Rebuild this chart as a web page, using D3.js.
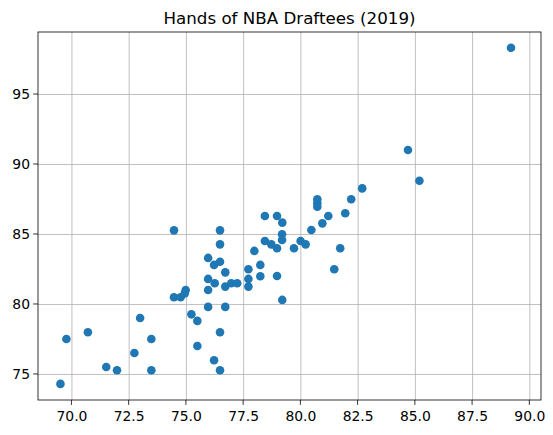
<!DOCTYPE html>
<html><head><meta charset="utf-8">
<script src="https://cdn.jsdelivr.net/npm/d3@7"></script>
<style>body{margin:0;background:#fff}</style></head>
<body><svg id="c" width="553" height="435"></svg>
<script>
const handLength = [69.52,69.78,70.72,71.52,71.99,72.75,73.0,73.49,73.49,74.48,74.48,74.77,74.99,74.95,75.24,75.5,75.5,75.97,75.97,75.97,75.97,76.23,76.26,76.49,76.49,76.49,76.23,76.49,76.49,76.72,76.72,76.72,76.98,77.24,77.73,77.73,77.73,77.99,78.25,78.25,78.45,78.98,79.21,79.2,79.2,78.45,78.73,78.98,78.98,79.21,79.72,80.01,80.23,80.48,80.74,80.74,80.74,80.96,81.22,81.48,81.74,81.96,82.22,82.70,84.7,85.2,89.2];
const handWidth  = [74.29,77.5,77.98,75.5,75.26,76.5,79.0,77.5,75.26,85.26,80.48,80.48,81.0,80.76,79.26,78.79,77.0,83.29,81.79,81.0,79.79,82.79,81.48,85.26,84.26,83.02,75.98,77.98,75.26,82.26,81.24,79.79,81.48,81.48,82.48,81.79,81.24,83.79,82.79,81.98,86.29,86.29,85.81,84.98,84.57,84.5,84.26,83.98,82.0,80.29,83.98,84.5,84.26,85.29,87.48,87.19,86.95,85.76,86.29,82.48,83.98,86.48,87.48,88.26,91.0,88.8,98.3];
const xTicks = [70.0,72.5,75.0,77.5,80.0,82.5,85.0,87.5,90.0];
const yTicks = [75,80,85,90,95];

const svg = d3.select("#c");
const L=38,R=541,T=32,B=400;
const x = d3.scaleLinear().domain([68.54,90.51]).range([L,R]);
const y = d3.scaleLinear().domain([73.14,99.43]).range([B,T]);
const font = "DejaVu Sans, sans-serif";

svg.append("g").attr("transform",`translate(0,${B})`)
  .call(d3.axisBottom(x).tickValues(xTicks).tickFormat(d3.format(".1f")).tickSize(-(B-T)).tickSizeOuter(0))
  .call(g=>{g.select(".domain").remove();g.selectAll("line").attr("stroke","#b0b0b0").attr("stroke-width",0.8);
    g.selectAll("text").attr("font-family",font).attr("font-size",13.9).attr("fill","#000").attr("dy","1.3em");});
svg.append("g").attr("transform",`translate(${L},0)`)
  .call(d3.axisLeft(y).tickValues(yTicks).tickSize(-(R-L)).tickSizeOuter(0))
  .call(g=>{g.select(".domain").remove();g.selectAll("line").attr("stroke","#b0b0b0").attr("stroke-width",0.8);
    g.selectAll("text").attr("font-family",font).attr("font-size",13.9).attr("fill","#000").attr("x",-8);});
// tick marks outside
svg.append("g").selectAll("line").data(xTicks).join("line")
  .attr("x1",d=>x(d)).attr("x2",d=>x(d)).attr("y1",B).attr("y2",B+4.9).attr("stroke","#000").attr("stroke-width",0.8);
svg.append("g").selectAll("line").data(yTicks).join("line")
  .attr("y1",d=>y(d)).attr("y2",d=>y(d)).attr("x1",L).attr("x2",L-4.9).attr("stroke","#000").attr("stroke-width",0.8);

svg.append("g").selectAll("circle").data(handLength).join("circle")
  .attr("cx",d=>x(d)).attr("cy",(d,i)=>y(handWidth[i])).attr("r",4.3).attr("fill","#1f77b4");

svg.append("rect").attr("x",L).attr("y",T).attr("width",R-L).attr("height",B-T)
  .attr("fill","none").attr("stroke","#000").attr("stroke-width",0.8);
svg.append("text").attr("x",(L+R)/2).attr("y",T-8).attr("text-anchor","middle")
  .attr("font-family",font).attr("font-size",16.7).text("Hands of NBA Draftees (2019)");
</script></body></html>
